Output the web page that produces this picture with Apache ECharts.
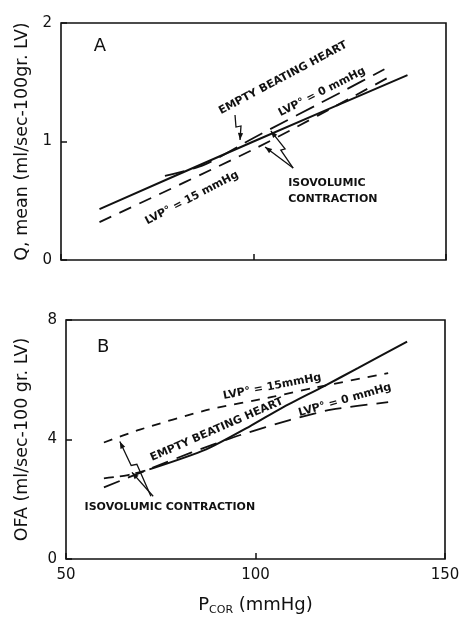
<!DOCTYPE html>
<html><head><meta charset="utf-8">
<script src="https://cdn.jsdelivr.net/npm/echarts@6/dist/echarts.min.js"></script>
<style>html,body{margin:0;padding:0;background:#fff}#c{width:465px;height:617px}</style>
</head><body><div id="c"></div><script>
// ---------- Panel A : Q mean ----------
const pcorA_ebh = [60, 100, 140];
const qA_ebh    = [0.43, 1.00, 1.56];
const pcorA_lvp0 = [77, 87, 100, 123, 134];
const qA_lvp0    = [0.71, 0.80, 1.03, 1.42, 1.61];
const pcorA_lvp15 = [60, 101, 135];
const qA_lvp15    = [0.32, 0.95, 1.54];
// ---------- Panel B : OFA ----------
const pcorB_ebh = [72, 87, 98.5, 107, 118, 127, 140];
const ofaB_ebh  = [3.00, 3.67, 4.44, 5.06, 5.78, 6.39, 7.28];
const pcorB_iso = [60, 66, 72];
const ofaB_iso  = [2.70, 2.80, 3.00];
const pcorB_lvp15 = [60, 69.5, 87, 105, 115, 135];
const ofaB_lvp15  = [3.90, 4.33, 4.98, 5.44, 5.72, 6.22];
const pcorB_lvp0 = [60, 83, 96, 109, 120, 135];
const ofaB_lvp0  = [2.40, 3.56, 4.15, 4.65, 5.00, 5.25];
// ---------- axes ----------
const xTicks = [50, 100, 150];
const yTicksA = [0, 1, 2];
const yTicksB = [0, 4, 8];

const zip = (a, b) => a.map((v, i) => [v, b[i]]);
const INK = '#111';
const FONT = '"DejaVu Sans", sans-serif';

function line(x, y, idx, type, w) {
  return { type: 'line', xAxisIndex: idx, yAxisIndex: idx, data: zip(x, y),
    showSymbol: false, smooth: 0.25, silent: true,
    lineStyle: { color: INK, width: w || 1.8, type: type } };
}

function xAxis(idx, showLabels) {
  return { type: 'value', gridIndex: idx, min: xTicks[0], max: xTicks[2], interval: 50,
    axisLine: { show: false }, splitLine: { show: false },
    axisTick: { show: true, inside: true, length: 6, lineStyle: { color: INK, width: 1.5 } },
    axisLabel: { show: showLabels, fontSize: 15, color: INK, margin: 9, fontFamily: FONT },
    name: showLabels ? '{p|P}{s|COR}{p| (mmHg)}' : '', nameLocation: 'middle', nameGap: 36,
    nameTextStyle: { rich: { p: { fontSize: 18, color: INK, fontFamily: FONT },
      s: { fontSize: 11, color: INK, fontFamily: FONT, verticalAlign: 'bottom', padding: [10, 0, 0, 0] } } } };
}
function yAxis(idx, max, interval, name, gap) {
  return { type: 'value', gridIndex: idx, min: 0, max: max, interval: interval,
    axisLine: { show: false }, splitLine: { show: false },
    axisTick: { show: true, inside: true, length: 6, lineStyle: { color: INK, width: 1.5 } },
    axisLabel: { fontSize: 15, color: INK, margin: 9, fontFamily: FONT },
    name: name, nameLocation: 'middle', nameGap: gap,
    nameTextStyle: { fontSize: 17.5, color: INK, fontFamily: FONT } };
}

const chart = echarts.init(document.getElementById('c'), null, { renderer: 'canvas' });
chart.setOption({
  backgroundColor: '#fff',
  animation: false,
  grid: [
    { left: 61, right: 19, top: 23, height: 237, show: true, borderColor: INK, borderWidth: 1.6 },
    { left: 66, right: 20, top: 320, height: 240, show: true, borderColor: INK, borderWidth: 1.6 }
  ],
  xAxis: [xAxis(0, false), xAxis(1, true)],
  yAxis: [yAxis(0, 2, 1, 'Q, mean (ml/sec-100gr. LV)', 30), yAxis(1, 8, 4, 'OFA (ml/sec-100 gr. LV)', 35)],
  series: [
    line(pcorA_ebh, qA_ebh, 0, 'solid', 2),
    line(pcorA_lvp0, qA_lvp0, 0, [20, 9]),
    line(pcorA_lvp15, qA_lvp15, 0, [13, 9]),
    line(pcorB_ebh, ofaB_ebh, 1, 'solid', 2),
    line(pcorB_iso, ofaB_iso, 1, [10, 6]),
    line(pcorB_lvp15, ofaB_lvp15, 1, [9, 8]),
    line(pcorB_lvp0, ofaB_lvp0, 1, [17, 9])
  ]
});

// ---------- annotations (anchored in data coordinates) ----------
const P = (g, x, y) => chart.convertToPixel({ gridIndex: g }, [x, y]);
const deg = d => d * Math.PI / 180;
const els = [];
function txt(g, x, y, text, rot, font, align) {
  const p = P(g, x, y);
  els.push({ type: 'text', x: p[0], y: p[1], rotation: deg(rot || 0), silent: true,
    style: { text: text, font: font, fill: INK, align: align || 'center', verticalAlign: 'middle' } });
}
function arrow(g, pts) {
  const px = pts.map(q => P(g, q[0], q[1]));
  els.push({ type: 'polyline', silent: true, shape: { points: px },
    style: { stroke: INK, lineWidth: 1.3, fill: null } });
  const a = px[px.length - 2], b = px[px.length - 1];
  const ang = Math.atan2(b[1] - a[1], b[0] - a[0]);
  const L = 7, W = 2.6;
  const bx = b[0] - L * Math.cos(ang), by = b[1] - L * Math.sin(ang);
  els.push({ type: 'polygon', silent: true, shape: { points: [b,
    [bx + W * Math.sin(ang), by - W * Math.cos(ang)], [bx - W * Math.sin(ang), by + W * Math.cos(ang)]] },
    style: { fill: INK } });
}
const LBL = 'bold 11px ' + FONT;
// Panel A
txt(0, 60.1, 1.80, 'A', 0, '18px ' + FONT);
txt(0, 107.7, 1.536, 'EMPTY BEATING HEART', 28, LBL);
txt(0, 117.8, 1.418, 'LVP° = 0 mmHg', 27, LBL);
txt(0, 84.0, 0.523, 'LVP° = 15 mmHg', 27.5, LBL);
txt(0, 109, 0.65, 'ISOVOLUMIC', 0, LBL, 'left');
txt(0, 109, 0.515, 'CONTRACTION', 0, LBL, 'left');
arrow(0, [[95.2, 1.224], [95.45, 1.122], [96.75, 1.131], [96.5, 1.013]]);
arrow(0, [[110.3, 0.776], [107.1, 0.928], [108.2, 0.937], [104.5, 1.089]]);
arrow(0, [[110.3, 0.776], [103.0, 0.954]]);
// Panel B
txt(1, 59.8, 7.1, 'B', 0, '18px ' + FONT);
txt(1, 104.4, 5.77, 'LVP° = 15mmHg', 11, LBL);
txt(1, 89.8, 4.33, 'EMPTY BEATING HEART', 23.6, LBL);
txt(1, 123.6, 5.32, 'LVP° = 0 mmHg', 16, LBL);
txt(1, 77.4, 1.73, 'ISOVOLUMIC CONTRACTION', 0, LBL);
arrow(1, [[73.0, 2.1], [67.4, 2.9]]);
arrow(1, [[72.4, 2.1], [68.7, 3.17], [67.2, 3.13], [64.2, 3.93]]);
chart.setOption({ graphic: { elements: els } });
</script></body></html>
